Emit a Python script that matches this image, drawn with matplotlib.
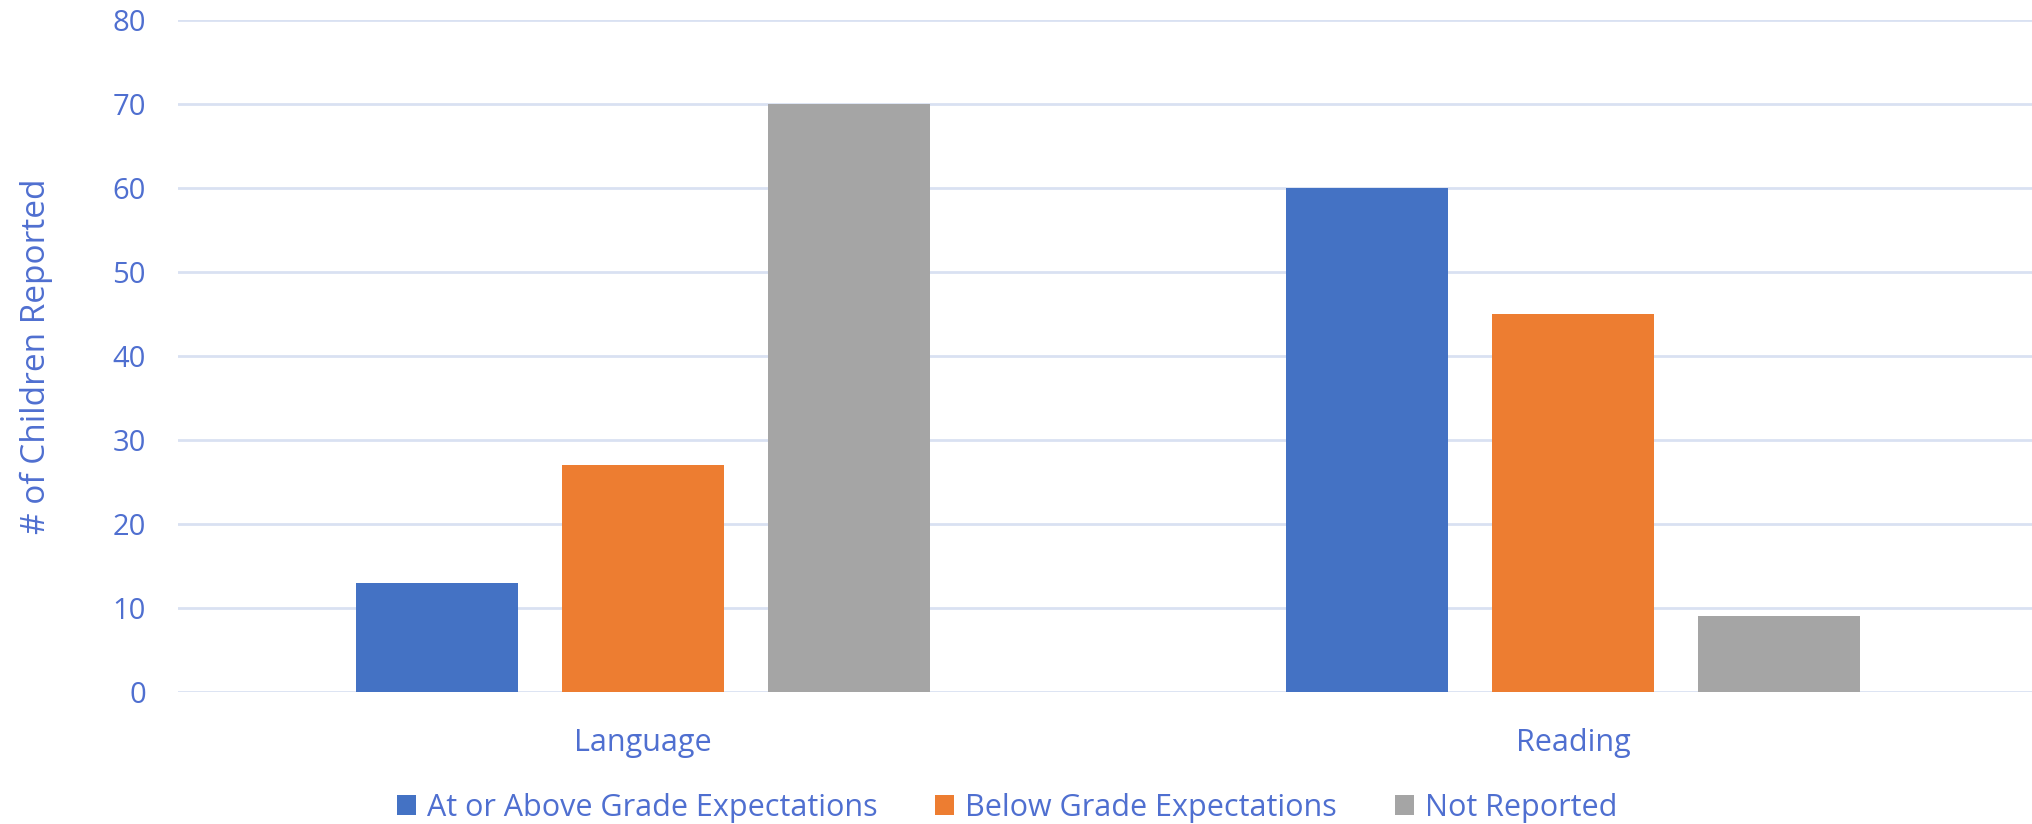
import matplotlib
matplotlib.use("Agg")
import matplotlib.pyplot as plt
import numpy as np
from matplotlib.patches import Patch

categories = ["Language", "Reading"]
series_names = ["At or Above Grade Expectations", "Below Grade Expectations", "Not Reported"]
at_or_above = [13, 60]
below = [27, 45]
not_reported = [70, 9]
y_ticks = [0, 10, 20, 30, 40, 50, 60, 70, 80]

colors = ["#4472C4", "#ED7D31", "#A5A5A5"]
text_color = "#4F6FD0"
grid_color = "#D9E1F2"

plt.rcParams['font.family'] = ['Open Sans', 'DejaVu Sans']

W, H = 2033, 824
fig = plt.figure(figsize=(W / 100, H / 100), dpi=100)
left, right = 178, 2038
top, bottom = 20, 692
ax = fig.add_axes([left / W, 1 - bottom / H, (right - left) / W, (bottom - top) / H])

x = np.arange(len(categories))
width = 0.174
step = 0.2215
for i, (vals, c, name) in enumerate(zip([at_or_above, below, not_reported], colors, series_names)):
    ax.bar(x + (i - 1) * step, vals, width=width, color=c, label=name, zorder=3)

ax.set_xlim(-0.5, 1.5)
ax.set_ylim(0, 80)
ax.set_yticks(y_ticks)
ax.set_xticks(x)
ax.set_xticklabels(categories)
ax.grid(axis='y', color=grid_color, linewidth=2, zorder=0)
ax.set_axisbelow(True)
for s in ax.spines.values():
    s.set_visible(False)
ax.tick_params(axis='both', length=0, labelcolor=text_color)
ax.tick_params(axis='y', pad=23, labelsize=21)
ax.tick_params(axis='x', pad=26, labelsize=22)
ax.set_ylabel("# of Children Reported", fontsize=24, color=text_color, labelpad=43)

handles = [Patch(facecolor=c, edgecolor='none') for c in colors]
leg = fig.legend(handles, series_names, loc='center', bbox_to_anchor=(1007 / W, 1 - 808 / H),
                 ncol=3, frameon=False, fontsize=22, handlelength=0.62, handleheight=0.62,
                 handletextpad=0.35, columnspacing=1.9, labelcolor=text_color)

fig.savefig("out.png", dpi=100)
